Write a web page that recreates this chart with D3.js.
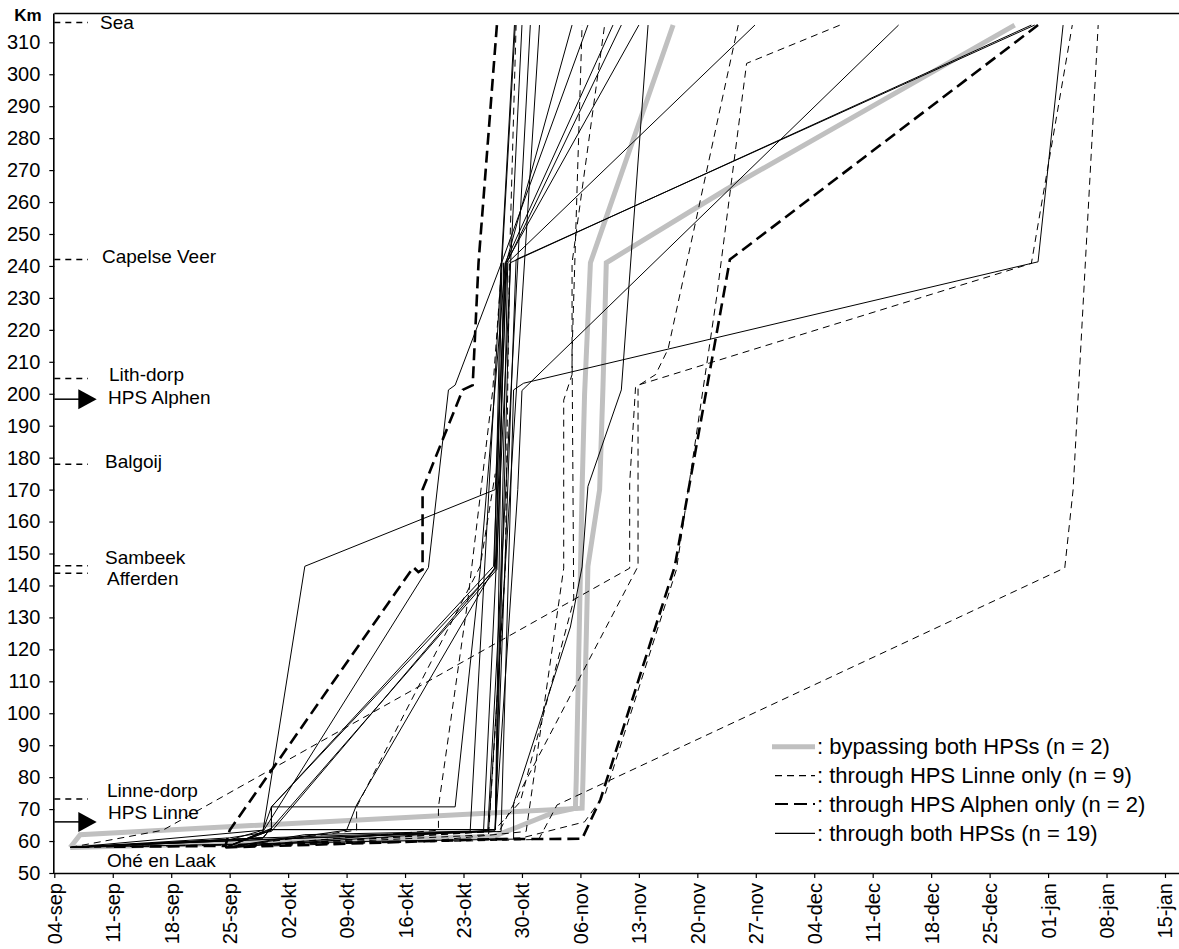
<!DOCTYPE html>
<html>
<head>
<meta charset="utf-8">
<script src="https://cdn.jsdelivr.net/npm/d3@7"></script>
<style>
  body { margin: 0; background: #fff; }
  svg { display: block; }
  text { font-family: "Liberation Sans", Arial, sans-serif; fill: #000; }
</style>
</head>
<body>
<svg id="chart" width="1179" height="949"></svg>
<script>
// Weekly date ticks (days after 04-sep) and their labels
const tickDays = [0, 7, 14, 21, 28, 35, 42, 49, 56, 63, 70, 77, 84, 91, 98, 105, 112, 119, 126, 133];
const tickLabels = ["04-sep", "11-sep", "18-sep", "25-sep", "02-okt", "09-okt", "16-okt", "23-okt",
  "30-okt", "06-nov", "13-nov", "20-nov", "27-nov", "04-dec", "11-dec", "18-dec", "25-dec",
  "01-jan", "08-jan", "15-jan"];
const kmTicks = d3.range(50, 311, 10);

// River stations along the route (km)
const stations = [
  { name: "Sea", km: 316.2 },
  { name: "Capelse Veer", km: 242 },
  { name: "Lith-dorp", km: 204.8 },
  { name: "Balgoij", km: 177.9 },
  { name: "Sambeek", km: 146.2 },
  { name: "Afferden", km: 143.8 },
  { name: "Linne-dorp", km: 73.2 }
];
const powerStations = [
  { name: "HPS Alphen", km: 198.3 },
  { name: "HPS Linne", km: 66 }
];

// Tracks: [day after 04-sep, km]
// Bypassing both HPSs
const bypassBoth = [
  [[1.9, 58], [3.1, 62], [63.2, 70.3], [63.3, 79], [63.9, 146], [65.3, 170], [65.7, 202], [66.1, 241], [80.5, 264], [115, 315.4]],
  [[1.9, 58], [52.6, 61.4], [59.6, 68.7], [62.4, 70.3], [62.5, 79], [63.2, 170], [63.5, 200], [64.2, 241], [74.1, 315.4]]
];
// Through HPS Linne only
const linneOnly = [
  [[1.9, 58], [13, 63.4], [68.9, 145.4], [68.9, 172], [69.6, 202], [72, 206], [73.5, 214], [81.9, 315.4]],
  [[1.9, 58], [40, 59.5], [58, 60.5], [60.2, 71.3], [121, 145.5], [122, 170], [125, 315.4]],
  [[20.5, 58], [53.3, 63.1], [69.9, 146], [69.9, 202.7], [117, 240.8], [121.9, 315.4]],
  [[20.5, 58], [52.6, 63.1], [55.8, 72.3], [62.2, 135.4], [62, 213], [63.2, 315.4]],
  [[1.9, 58], [45, 60], [56.5, 63], [61, 145.4], [61, 198], [62, 206], [62, 241], [65.9, 315.4]],
  [[20.5, 58], [52, 62], [54, 145], [54.5, 241], [55.3, 315.4]],
  [[20.5, 58], [46, 63.4], [46, 70.7], [49.5, 135], [52.5, 201], [53.6, 241]],
  [[20.5, 58], [36.2, 63.4], [36.2, 70.7], [51, 146], [52.8, 175]],
  [[20.5, 58], [56, 61], [63.5, 66], [66, 75], [74.5, 145], [79.3, 230], [82.9, 303.4], [94.1, 315.4]]
];
// Through HPS Alphen only
const alphenOnly = [
  [[7.1, 58.2], [20.5, 58.5], [21, 63.4], [43, 145.7], [43.6, 144.2], [44.1, 145], [44.1, 170], [48.9, 201.2], [50.1, 202.7], [50.8, 241], [53, 315.4]],
  [[20.5, 58], [52.5, 60.6], [63.2, 60.7], [65.4, 73], [74.3, 146], [80.9, 242], [117.8, 315.4]]
];
// Through both HPSs
const throughBoth = [
  [[1.9, 58], [25, 63.4], [30, 146], [52.8, 170], [54.1, 241], [62, 315.4]],
  [[20.5, 58], [25, 63], [44.8, 145.6], [47.2, 201.2], [48, 202.7], [53.8, 242.7], [63.9, 315.4]],
  [[1.9, 58], [20.5, 60], [25, 63.4], [26, 70.7], [52.9, 145.4], [53.6, 241], [55.2, 315.4]],
  [[20.5, 58], [30, 62], [49.8, 63.1], [55.1, 315.4]],
  [[20.5, 58], [26, 63.4], [26, 70.7], [52.6, 146], [54, 241], [66.9, 315.4]],
  [[1.9, 58], [21, 61], [26, 63], [52.8, 145.5], [54.2, 241], [67.9, 315.4]],
  [[20.5, 58], [26, 64], [53, 145], [54.1, 241], [70, 315.4]],
  [[20.5, 58], [26, 63.4], [26, 70.7], [48, 70.7], [51, 145], [54, 241]],
  [[1.9, 58], [40, 60], [55, 60.6], [55, 71.8], [61.8, 127], [63.2, 145.8], [63.9, 171], [67.9, 201.2], [71.1, 315.4]],
  [[1.9, 58], [20, 60], [53.5, 63], [55, 201.2], [56.2, 203.3], [117.8, 241.3], [120.8, 315.4]],
  [[1.9, 58], [25, 61], [25.8, 63.6], [52.8, 63.6], [54.6, 241], [117, 315.4]],
  [[20.5, 58], [25.8, 63.6], [52.8, 63.6], [55.3, 242], [117.4, 315.4]],
  [[1.9, 58], [25, 61], [25.8, 63.6], [52.8, 63.6], [54.3, 241], [83.9, 315.4]],
  [[20.5, 58], [52.8, 63.5], [55.5, 170], [56, 201], [101.1, 315.4]],
  [[1.9, 58], [25, 61], [25.8, 63.6], [52.8, 63.6], [53.8, 241]],
  [[1.9, 58], [25, 61], [51.4, 63.1], [56, 315.4]],
  [[20.5, 58], [40, 62], [51.9, 63.1], [57, 315.4]],
  [[1.9, 58], [25, 60.5], [52, 63.1], [58.1, 315.4]],
  [[20.5, 58], [35, 63.4], [36.2, 71.3], [52.7, 145.4], [53.5, 241]]
];

const legendItems = [
  { key: "bypass", label: ": bypassing both HPSs (n = 2)" },
  { key: "linne", label: ": through HPS Linne only (n = 9)" },
  { key: "alphen", label: ": through HPS Alphen only (n = 2)" },
  { key: "both", label: ": through both HPSs (n = 19)" }
];

// Line styles per group
const styles = {
  bypass: { stroke: "#c0c0c0", width: 5, dash: null },
  linne: { stroke: "#000", width: 1, dash: "7,5" },
  alphen: { stroke: "#000", width: 2.6, dash: "12,6" },
  both: { stroke: "#000", width: 1, dash: null }
};

const svg = d3.select("#chart");
const x = d3.scaleLinear().domain([0, 135]).range([54.3, 54.3 + 135 * 8.351]);
const y = d3.scaleLinear().domain([50, 319]).range([873, 873 - 269 * 3.195]);

const line = d3.line().x(d => x(d[0])).y(d => y(d[1]));

function drawGroup(tracks, key) {
  const s = styles[key];
  svg.append("g").selectAll("path").data(tracks).join("path")
    .attr("d", line)
    .attr("fill", "none")
    .attr("stroke", s.stroke)
    .attr("stroke-width", s.width)
    .attr("stroke-linejoin", "miter")
    .attr("stroke-dasharray", s.dash);
}
drawGroup(bypassBoth, "bypass");
drawGroup(throughBoth, "both");
drawGroup(linneOnly, "linne");
drawGroup(alphenOnly, "alphen");

// Top border line
svg.append("line").attr("x1", x(0)).attr("x2", 1179).attr("y1", y(319)).attr("y2", y(319))
  .attr("stroke", "#000").attr("stroke-width", 1.6);

// Y axis
const yAxis = d3.axisLeft(y).tickValues(kmTicks).tickSize(5).tickPadding(9);
const gy = svg.append("g").attr("transform", `translate(${x(0)},0)`).call(yAxis);
gy.select(".domain").attr("d", `M-0.5,${y(319)}V${y(50)}`).attr("stroke-width", 1.6);
gy.selectAll(".tick line").attr("stroke-width", 1.2);
gy.selectAll("text").attr("font-size", 20).attr("font-family", "Liberation Sans, Arial, sans-serif").attr("fill", "#000");

svg.append("text").attr("x", 41.7).attr("y", 20.5).attr("text-anchor", "end")
  .attr("font-size", 17).attr("font-weight", "bold").text("Km");

// X axis
const xAxis = d3.axisBottom(x).tickValues(tickDays).tickSize(5)
  .tickFormat((d, i) => tickLabels[i]);
const gx = svg.append("g").attr("transform", `translate(0,${y(50)})`).call(xAxis);
gx.select(".domain").attr("d", `M${x(0)},0.5H1179`).attr("stroke-width", 1.6);
gx.selectAll(".tick line").attr("stroke-width", 1.2);
gx.selectAll("text")
  .attr("font-size", 20).attr("font-family", "Liberation Sans, Arial, sans-serif").attr("fill", "#000")
  .attr("text-anchor", "end")
  .attr("transform", "rotate(-90)")
  .attr("x", -10).attr("y", 0).attr("dy", "0.35em");

// Station markers on the y axis
const labelShift = { "Sea": 0, "Capelse Veer": -3, "Lith-dorp": -4, "Balgoij": -3, "Sambeek": -8, "Afferden": 5, "Linne-dorp": -9 };
const labelX = { "Sea": 100, "Capelse Veer": 102, "Lith-dorp": 109, "Balgoij": 105, "Sambeek": 105, "Afferden": 107, "Linne-dorp": 107 };
const sg = svg.append("g");
stations.forEach(st => {
  sg.append("line").attr("x1", x(0)).attr("x2", 88).attr("y1", y(st.km)).attr("y2", y(st.km))
    .attr("stroke", "#000").attr("stroke-width", 1.5).attr("stroke-dasharray", "6,5");
  sg.append("text").attr("x", labelX[st.name]).attr("y", y(st.km) + labelShift[st.name])
    .attr("dy", "0.35em").attr("font-size", 19).text(st.name);
});
powerStations.forEach(p => {
  const yy = y(p.km);
  sg.append("line").attr("x1", x(0)).attr("x2", 80).attr("y1", yy).attr("y2", yy)
    .attr("stroke", "#000").attr("stroke-width", 1.5);
  sg.append("path").attr("d", `M78.3,${yy - 10}L78.3,${yy + 10}L96.7,${yy}Z`).attr("fill", "#000");
  sg.append("text").attr("x", 108).attr("y", yy - (p.name === "HPS Linne" ? 10 : 2))
    .attr("dy", "0.35em").attr("font-size", 19).text(p.name);
});
sg.append("text").attr("x", 107).attr("y", 860.7).attr("dy", "0.35em").attr("font-size", 19).text("Ohé en Laak");

// Legend
const lg = svg.append("g");
const legendY = [746.7, 775.7, 804, 833.3];
legendItems.forEach((it, i) => {
  const s = styles[it.key];
  const x1 = it.key === "bypass" ? 772 : 775;
  lg.append("line").attr("x1", x1).attr("x2", 815).attr("y1", legendY[i]).attr("y2", legendY[i])
    .attr("stroke", s.stroke).attr("stroke-width", it.key === "alphen" ? 2 : (it.key === "bypass" ? 5 : 1.3))
    .attr("stroke-dasharray", it.key === "alphen" ? "13,6" : s.dash);
  lg.append("text").attr("x", 817).attr("y", legendY[i]).attr("dy", "0.35em")
    .attr("font-size", 22).text(it.label);
});
</script>
</body>
</html>
